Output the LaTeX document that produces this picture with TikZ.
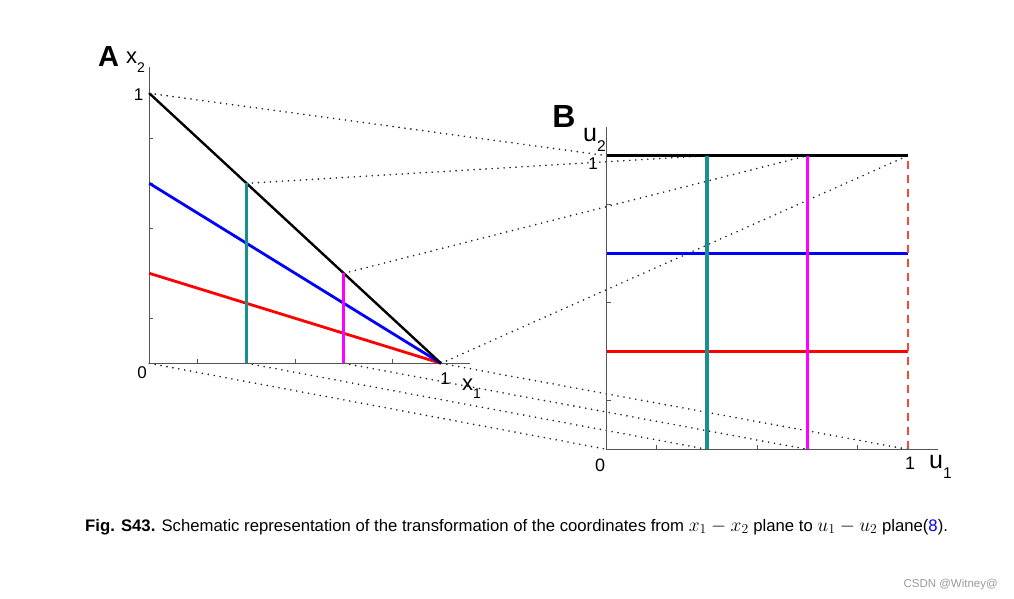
\documentclass[tikz,border=0pt]{standalone}
\usepackage{fix-cm}
\usepackage{fontspec}
\setmainfont{Liberation Sans}
\usepackage{xcolor}
\usetikzlibrary{calc}
\definecolor{figteal}{HTML}{17908F}
\definecolor{figmagenta}{HTML}{FF00FF}
\definecolor{figblue}{HTML}{0000FF}
\definecolor{figred}{HTML}{FF0000}
\definecolor{figdash}{HTML}{EE4B3B}
\definecolor{figaxis}{HTML}{555555}
\definecolor{figdot}{HTML}{202020}
\definecolor{linkblue}{HTML}{0000FF}
\definecolor{markgray}{HTML}{9A9A9A}
\newcommand{\axisvar}[3]{#1\raisebox{-0.4em}{\fontsize{#3}{#3}\selectfont #2}}
\newcommand{\capmath}[1]{{\fontsize{19.5}{20}\selectfont$#1$}}
\tikzset{
  axisLine/.style={draw=figaxis, line width=1.5pt},
  tickMark/.style={draw=figaxis, line width=1.1pt},
  mapLine/.style={draw=figdot, line width=1.8pt, line cap=round, dash pattern=on 0pt off 6pt},
  curveLine/.style={line width=2.8pt},
  tealLine/.style={curveLine, draw=figteal, line width=3.2pt},
  tickLabel/.style={font=\fontsize{17}{17}\selectfont, inner sep=0pt},
  varLabel/.style={font=\fontsize{22}{22}\selectfont, inner sep=0pt, anchor=base west},
  panelLabel/.style={font=\fontsize{29}{29}\selectfont\bfseries, inner sep=0pt}
}

\begin{document}
\begin{tikzpicture}[x=1pt,y=-1pt]
  \useasboundingbox (0,0) rectangle (1014,598);
  % panel A
  \coordinate (aO) at (149.3,363.3);
  \coordinate (aX) at (441,363.3);
  \coordinate (aY) at (149.3,93.3);
  \coordinate (aB) at (149.3,183.3);
  \coordinate (aR) at (149.3,273.3);
  \coordinate (aG0) at (246.5,363.3);
  \coordinate (aG1) at (246.5,183.3);
  \coordinate (aM0) at (343.8,363.3);
  \coordinate (aM1) at (343.8,273.3);
  \coordinate (aXend) at (470,363.3);
  \coordinate (aYend) at (149.3,66.7);
  % panel B
  \coordinate (bO) at (606.7,449.3);
  \coordinate (bX) at (907.7,449.3);
  \coordinate (bY) at (606.7,155.7);
  \coordinate (bXY) at (907.7,155.7);
  \coordinate (bB0) at (606.7,253.6);
  \coordinate (bB1) at (907.7,253.6);
  \coordinate (bR0) at (606.7,351.4);
  \coordinate (bR1) at (907.7,351.4);
  \coordinate (bG0) at (707,449.3);
  \coordinate (bG1) at (707,155.7);
  \coordinate (bM0) at (807.3,449.3);
  \coordinate (bM1) at (807.3,155.7);
  \coordinate (bXend) at (938,449.3);
  \coordinate (bYend) at (606.7,126.7);

  % dotted correspondences
  \draw[mapLine] (aY) -- (bY);
  \draw[mapLine] (aG1) -- (bG1);
  \draw[mapLine] (aM1) -- (bM1);
  \draw[mapLine] (aX) -- (bXY);
  \draw[mapLine] (aO) -- (bO);
  \draw[mapLine] (aG0) -- (bG0);
  \draw[mapLine] (aM0) -- (bM0);
  \draw[mapLine] (aX) -- (bX);

  % axes and ticks
  \draw[axisLine] (aYend) -- (aO) -- (aXend);
  \draw[axisLine] (bYend) -- (bO) -- (bXend);
  \foreach \t in {1,...,5} {
    \draw[tickMark] ($(aO)!\t/6!(aX)$) -- ++(0,-4);
    \draw[tickMark] ($(aO)!\t/6!(aY)$) -- ++(4,0);
    \draw[tickMark] ($(bO)!\t/6!(bX)$) -- ++(0,-4);
    \draw[tickMark] ($(bO)!\t/6!(bY)$) -- ++(4,0);
  }

  % panel A lines
  \draw[curveLine, figred] (aR) -- (aX);
  \draw[curveLine, figblue] (aB) -- (aX);
  \draw[curveLine, black, line width=2.4pt] (aY) -- (aX);
  \draw[tealLine] (aG0) -- (aG1);
  \draw[curveLine, figmagenta] (aM0) -- (aM1);

  % panel B lines
  \draw[curveLine, figred] (bR0) -- (bR1);
  \draw[curveLine, figblue] (bB0) -- (bB1);
  \draw[curveLine, black] (bY) -- (bXY);
  \draw[tealLine] (bG0) -- (bG1);
  \draw[curveLine, figmagenta] (bM0) -- (bM1);
  \draw[curveLine, figdash, line width=2.4pt, dash pattern=on 8pt off 6pt] (bX) -- (bXY);

  % labels
  \node[panelLabel] (labA) at (108.5,57) {A};
  \node[varLabel] (labX2) at (126,63.3) {\axisvar{x}{2}{14}};
  \node[tickLabel] (aOne) at (138.5,95) {1};
  \node[tickLabel] (aZero) at (142,373) {0};
  \node[tickLabel] (aXOne) at (445,379) {1};
  \node[varLabel] (labX1) at (462,390) {\axisvar{x}{1}{14}};
  \node[panelLabel, font=\fontsize{32}{32}\selectfont\bfseries] (labB) at (564,116) {B};
  \node[varLabel, font=\fontsize{25}{25}\selectfont] (labU2) at (583,141) {\axisvar{u}{2}{15.5}};
  \node[tickLabel] (bOne) at (593,163.5) {1};
  \node[tickLabel, font=\fontsize{18}{18}\selectfont] (bZero) at (600,465) {0};
  \node[tickLabel, font=\fontsize{18}{18}\selectfont] (bXOne) at (910,463) {1};
  \node[varLabel, font=\fontsize{25}{25}\selectfont] (labU1) at (929,468) {\axisvar{u}{1}{15.5}};

  % caption and mark
  \node[anchor=base west, inner sep=0pt, font=\fontsize{16.7}{20}\selectfont] (caption) at (85,531)
    {\textbf{Fig. S43.} Schematic representation of the transformation of the coordinates from \capmath{x_1-x_2} plane to \capmath{u_1-u_2} plane(\textcolor{linkblue}{8}).};
  \node[anchor=base east, inner sep=0pt, font=\fontsize{11.5}{12}\selectfont, text=markgray] (mark) at (998,587) {CSDN @Witney@};
\end{tikzpicture}
\end{document}
